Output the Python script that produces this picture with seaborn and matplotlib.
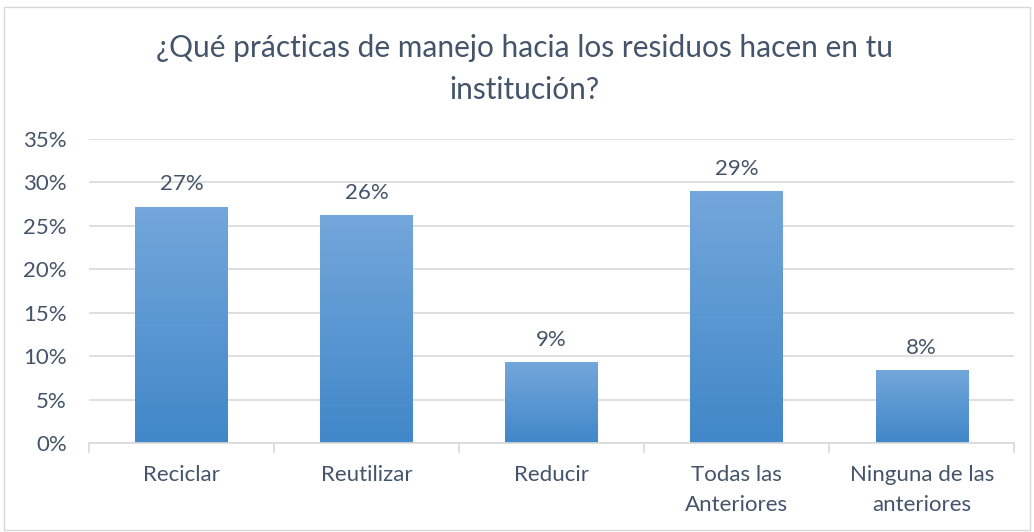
import numpy as np
import pandas as pd
import matplotlib
matplotlib.use("Agg")
import matplotlib.pyplot as plt
import seaborn as sns
from matplotlib.patches import Rectangle

# values
categories = ["Reciclar", "Reutilizar", "Reducir", "Todas las\nAnteriores", "Ninguna de las\nanteriores"]
percentages = [27.2, 26.2, 9.3, 29.0, 8.4]
bar_labels = ["27%", "26%", "9%", "29%", "8%"]
y_ticks = [0, 5, 10, 15, 20, 25, 30, 35]

title = "¿Qué prácticas de manejo hacia los residuos hacen en tu\ninstitución?"
text_color = "#44546A"
grid_color = "#D9D9D9"

sns.set_style("white")
plt.rcParams["font.family"] = ["Lato", "DejaVu Sans"]

df = pd.DataFrame({"cat": categories, "pct": percentages})

fig = plt.figure(figsize=(10.34, 5.32), dpi=100)
ax = fig.add_axes([0.086, 0.167, 0.895, 0.572])

sns.barplot(data=df, x="cat", y="pct", color="#5B9BD5", width=0.5, ax=ax, zorder=2)

ax.set_ylim(0, 35)
ax.set_xlim(-0.5, len(categories) - 0.5)

# vertical gradient fill on each bar, like the Excel original
grad = np.linspace(0, 1, 256).reshape(-1, 1)
cmap = matplotlib.colors.LinearSegmentedColormap.from_list("bar", ["#4187C9", "#74A7DB"])
for p in ax.patches:
    x0, y0 = p.get_x(), p.get_y()
    w, h = p.get_width(), p.get_height()
    im = ax.imshow(grad, extent=[x0, x0 + w, y0, y0 + h], origin="lower",
                   cmap=cmap, aspect="auto", zorder=2)
    im.set_clip_path(p)
    p.set_facecolor("none")
    p.set_edgecolor("none")

for i, lab in enumerate(bar_labels):
    ax.annotate(lab, (i, percentages[i]), xytext=(0, 9), textcoords="offset points",
                ha="center", va="bottom", fontsize=16, color=text_color)

ax.set_yticks(y_ticks)
ax.set_yticklabels([f"{v}%" for v in y_ticks])
ax.yaxis.grid(True, color=grid_color, linewidth=1.2, zorder=0)
ax.set_axisbelow(True)

for s in ["top", "right", "left"]:
    ax.spines[s].set_visible(False)
ax.spines["bottom"].set_color(grid_color)
ax.spines["bottom"].set_linewidth(1.2)

# category boundary ticks under the x axis
ax.set_xticks(np.arange(-0.5, len(categories)), minor=True)
ax.tick_params(axis="x", which="minor", length=7, color=grid_color, width=1.2, bottom=True)
ax.tick_params(axis="x", which="major", length=0, pad=16, labelsize=16, labelcolor=text_color)
ax.tick_params(axis="y", length=0, pad=16, labelsize=16, labelcolor=text_color)
ax.set_xticks(range(len(categories)))
ax.set_xticklabels(categories, linespacing=1.6)
ax.set_xlabel("")
ax.set_ylabel("")

fig.text(0.507, 0.87, title, ha="center", va="center", fontsize=21.5,
         color=text_color, linespacing=1.6)

fig.patches.append(Rectangle((0.004, 0.004), 0.992, 0.982, transform=fig.transFigure,
                             fill=False, edgecolor=grid_color, linewidth=1))

fig.savefig("out.png", dpi=100)
